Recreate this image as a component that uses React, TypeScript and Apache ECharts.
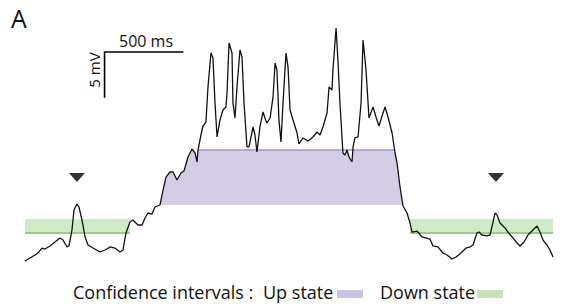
import React, { useEffect, useRef } from "react";
import * as echarts from "echarts";

// Time (ms) and membrane potential (mV) of the recorded trace
const TIME_MS = [
  0, 32, 64, 83, 109, 128, 160, 192, 224, 244, 269, 282, 301, 314, 333, 346, 365, 385, 404, 436,
  481, 513, 545, 577, 609, 628, 647, 673, 692, 724, 750, 769, 788, 814, 833, 865, 885, 904, 929, 949,
  974, 1000, 1019, 1045, 1071, 1090, 1103, 1109, 1128, 1141, 1160, 1173, 1192, 1205, 1218, 1231, 1250, 1269, 1288, 1295,
  1308, 1327, 1333, 1346, 1359, 1378, 1391, 1404, 1423, 1436, 1462, 1474, 1487, 1506, 1526, 1538, 1551, 1571, 1590, 1603,
  1615, 1628, 1641, 1654, 1673, 1686, 1699, 1718, 1744, 1756, 1782, 1814, 1846, 1872, 1891, 1910, 1936, 1949, 1968, 1974,
  1994, 2006, 2019, 2038, 2051, 2064, 2077, 2096, 2103, 2115, 2135, 2154, 2167, 2186, 2205, 2231, 2250, 2269, 2295, 2308,
  2327, 2353, 2372, 2385, 2404, 2423, 2449, 2468, 2481, 2513, 2545, 2596, 2615, 2647, 2679, 2705, 2737, 2763, 2788, 2827,
  2853, 2872, 2897, 2910, 2929, 2962, 2981, 3000, 3013, 3026, 3045, 3077, 3096, 3128, 3154, 3173, 3199, 3224, 3256, 3282,
  3301, 3321, 3346, 3365, 3385,
];
const VM_MV = [
  -74.0, -73.67, -73.33, -73.11, -72.56, -72.67, -72.33, -71.89, -71.44, -71.67, -72.44, -72.33, -70.56, -68.33, -67.67, -68.0, -69.44, -71.33, -72.22, -72.56,
  -73.0, -72.78, -72.44, -72.56, -73.0, -72.78, -70.89, -69.67, -69.44, -70.0, -70.0, -69.22, -68.67, -68.78, -68.0, -67.78, -66.11, -64.67, -64.11, -64.11,
  -65.0, -64.22, -64.0, -62.44, -61.56, -62.0, -63.0, -61.67, -60.0, -59.0, -58.56, -54.67, -50.89, -51.44, -56.44, -60.22, -58.33, -57.22, -56.89, -55.33,
  -49.78, -50.89, -56.44, -58.11, -54.67, -50.56, -51.33, -56.44, -61.33, -61.33, -59.11, -60.0, -61.89, -59.11, -57.44, -58.11, -58.67, -58.11, -55.78, -52.0,
  -52.78, -58.33, -60.78, -56.44, -50.89, -52.44, -57.22, -58.33, -59.78, -61.0, -60.33, -60.67, -60.22, -59.67, -60.0, -59.11, -57.56, -54.67, -55.0, -52.78,
  -48.11, -51.67, -56.44, -62.0, -62.22, -61.67, -62.44, -63.0, -61.33, -60.33, -60.22, -56.44, -49.44, -52.78, -58.11, -56.89, -58.0, -59.0, -57.56, -56.89,
  -58.0, -59.78, -62.0, -63.11, -65.78, -67.89, -68.67, -69.78, -70.78, -70.67, -71.33, -71.56, -72.33, -72.44, -73.11, -73.33, -73.78, -73.56, -73.22, -72.56,
  -72.44, -72.22, -70.89, -70.78, -71.11, -71.22, -71.11, -69.67, -68.67, -68.89, -69.78, -70.33, -70.78, -71.44, -72.0, -72.33, -71.89, -71.11, -70.56, -70.11,
  -70.78, -71.67, -72.22, -72.78, -73.56,
];

// Confidence intervals [low, high] in mV and their time windows (ms)
const UP_CI = [-67.78, -61.67];
const UP_WINDOW = [865, 2423];
const UP_TOP_SPAN = [1109, 2365];
const DOWN_CI = [-70.9, -69.33];
const DOWN_WINDOWS = [
  [0, 673],
  [2468, 3385],
];

// Markers over down-state events
const ARROW_TIMES = [333, 3019];
const ARROW_LEVEL = -64.72;

// Scale bar
const SCALE_ORIGIN = [510, -50.78];
const SCALE_TIME = 500;
const SCALE_VOLT = 5;

const PURPLE_FILL = "#d5cde6";
const PURPLE_EDGE = "#a394cb";
const GREEN_FILL = "#d0e9c6";
const GREEN_EDGE = "#93d07f";
const FONT = "'Open Sans', 'Noto Sans', sans-serif";

export default function App() {
  const ref = useRef<HTMLDivElement>(null);

  useEffect(() => {
    document.body.style.margin = "0";
    if (!ref.current) return;
    const chart = echarts.init(ref.current, undefined, { renderer: "svg" });

    const trace = TIME_MS.map((t, i) => [t, VM_MV[i]]);
    const upFill = trace
      .filter(([t]) => t >= UP_WINDOW[0] && t <= UP_WINDOW[1])
      .map(([t, v]) => [t, Math.max(UP_CI[0], Math.min(UP_CI[1], v))]);

    const series: any[] = [];

    series.push({
      type: "line",
      data: upFill,
      symbol: "none",
      lineStyle: { width: 0 },
      areaStyle: { color: PURPLE_FILL, opacity: 1, origin: UP_CI[0] },
      z: 1,
      silent: true,
    });
    series.push({
      type: "line",
      data: [
        [UP_TOP_SPAN[0], UP_CI[1]],
        [UP_TOP_SPAN[1], UP_CI[1]],
      ],
      symbol: "none",
      lineStyle: { width: 1.5, color: PURPLE_EDGE },
      z: 2,
      silent: true,
    });

    DOWN_WINDOWS.forEach(([a, b]) => {
      series.push({
        type: "line",
        data: [
          [a, DOWN_CI[1]],
          [b, DOWN_CI[1]],
        ],
        symbol: "none",
        lineStyle: { width: 0 },
        areaStyle: { color: GREEN_FILL, opacity: 1, origin: DOWN_CI[0] },
        z: 1,
        silent: true,
      });
      series.push({
        type: "line",
        data: [
          [a, DOWN_CI[0]],
          [b, DOWN_CI[0]],
        ],
        symbol: "none",
        lineStyle: { width: 2, color: GREEN_EDGE },
        z: 2,
        silent: true,
      });
    });

    series.push({
      type: "line",
      data: trace,
      symbol: "none",
      lineStyle: { width: 1.3, color: "#111" },
      z: 5,
      silent: true,
    });

    series.push({
      type: "scatter",
      data: ARROW_TIMES.map((t) => [t, ARROW_LEVEL]),
      symbol: "triangle",
      symbolRotate: 180,
      symbolSize: [16, 9],
      itemStyle: { color: "#000" },
      z: 6,
      silent: true,
    });

    series.push({
      type: "line",
      data: [
        [SCALE_ORIGIN[0] + SCALE_TIME, SCALE_ORIGIN[1]],
        [SCALE_ORIGIN[0], SCALE_ORIGIN[1]],
        [SCALE_ORIGIN[0], SCALE_ORIGIN[1] - SCALE_VOLT],
      ],
      symbol: "none",
      lineStyle: { width: 1.6, color: "#000", cap: "square", join: "miter" },
      z: 6,
      silent: true,
    });

    chart.setOption({
      animation: false,
      grid: { left: 25, top: 18, width: 530.4, height: 252 },
      xAxis: {
        type: "value",
        min: 0,
        max: 3400,
        show: false,
      },
      yAxis: {
        type: "value",
        min: -75,
        max: -47,
        show: false,
      },
      series,
      graphic: [
        {
          type: "text",
          left: 11,
          top: 5,
          style: { text: "A", font: `25px ${FONT}`, fill: "#111" },
        },
        {
          type: "text",
          x: 119,
          y: 49,
          style: {
            text: "500 ms",
            font: `16px ${FONT}`,
            fill: "#111",
            textVerticalAlign: "bottom",
          },
        },
        {
          type: "text",
          x: 101,
          y: 70,
          rotation: Math.PI / 2,
          style: {
            text: "5 mV",
            font: `15px ${FONT}`,
            fill: "#111",
            textAlign: "center",
            textVerticalAlign: "bottom",
          },
        },
        {
          type: "text",
          x: 73,
          y: 292,
          style: {
            text: "Confidence intervals :",
            font: `18px ${FONT}`,
            fill: "#111",
            textVerticalAlign: "middle",
          },
        },
        {
          type: "text",
          x: 263,
          y: 292,
          style: {
            text: "Up state",
            font: `18px ${FONT}`,
            fill: "#111",
            textVerticalAlign: "middle",
          },
        },
        {
          type: "rect",
          shape: { x: 337, y: 290, width: 26, height: 8 },
          style: { fill: "#cbc1e1" },
        },
        {
          type: "text",
          x: 380,
          y: 292,
          style: {
            text: "Down state",
            font: `18px ${FONT}`,
            fill: "#111",
            textVerticalAlign: "middle",
          },
        },
        {
          type: "rect",
          shape: { x: 477, y: 290, width: 26, height: 8 },
          style: { fill: "#c6e4b8" },
        },
      ],
    });

    return () => chart.dispose();
  }, []);

  return <div ref={ref} style={{ width: 573, height: 307 }} />;
}
